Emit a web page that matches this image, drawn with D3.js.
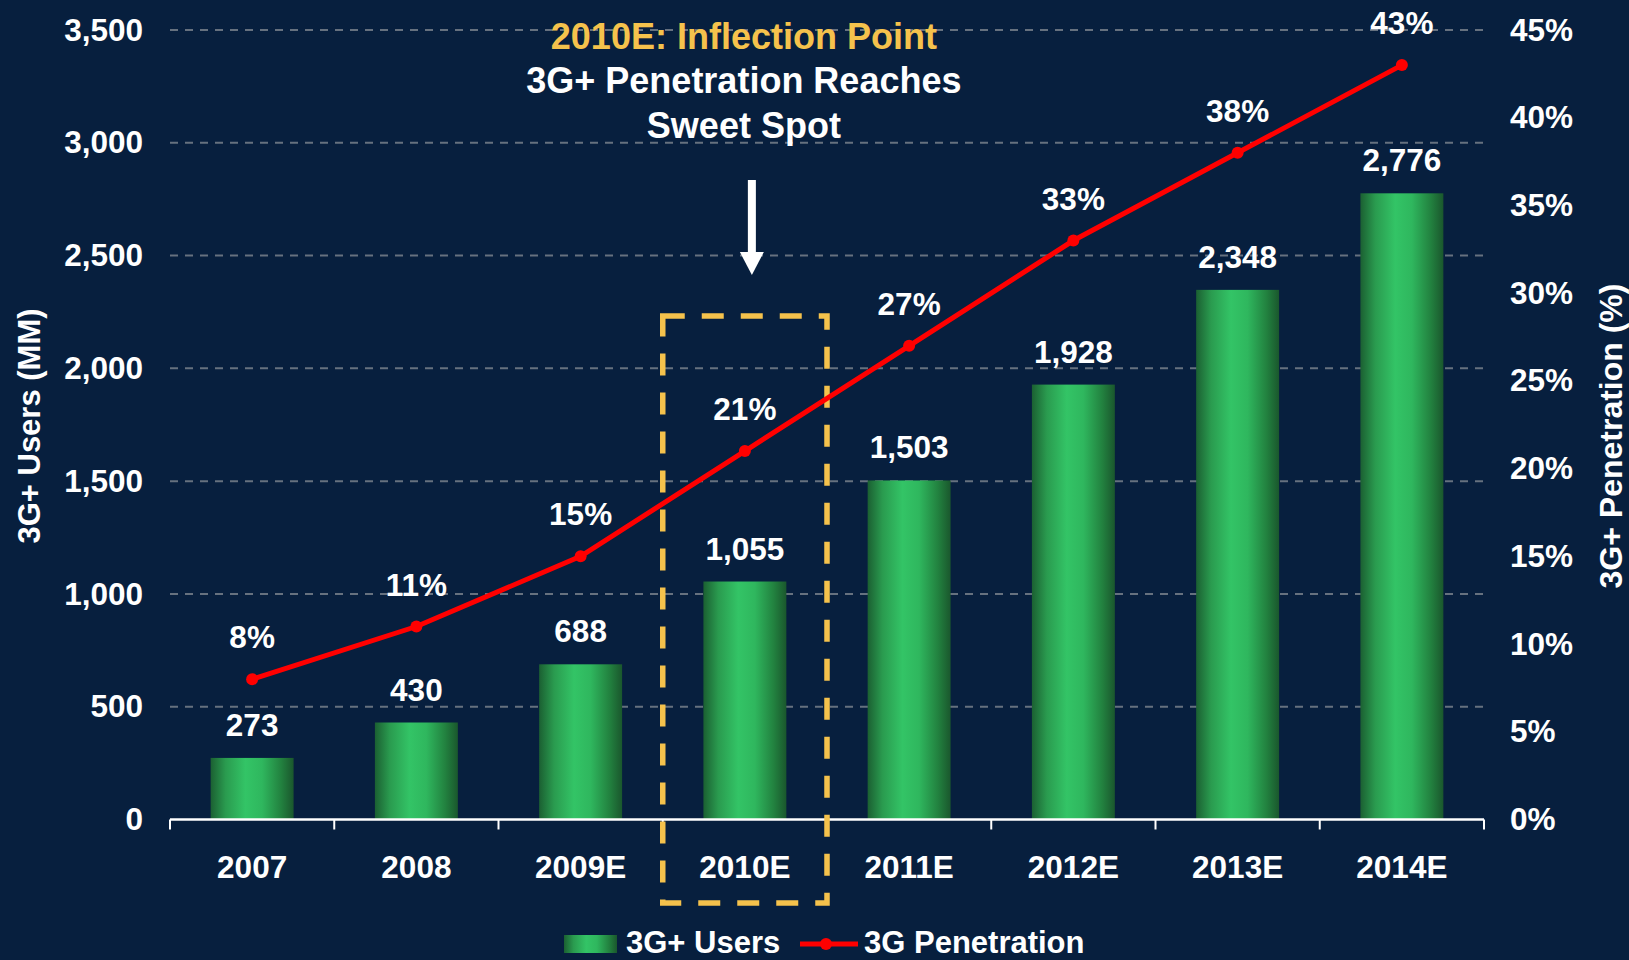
<!DOCTYPE html>
<html>
<head>
<meta charset="utf-8">
<script src="https://cdn.jsdelivr.net/npm/d3@7"></script>
<style>
  body { margin: 0; background: #071f3e; }
  svg { display: block; font-family: "Liberation Sans", Arial, sans-serif; font-weight: bold; }
</style>
</head>
<body>
<script>
const years = ['2007', '2008', '2009E', '2010E', '2011E', '2012E', '2013E', '2014E'];
const users = [273, 430, 688, 1055, 1503, 1928, 2348, 2776];
const penetration = [8, 11, 15, 21, 27, 33, 38, 43];
const userTicks = [0, 500, 1000, 1500, 2000, 2500, 3000, 3500];
const pctTicks = [0, 5, 10, 15, 20, 25, 30, 35, 40, 45];

const w = 1629;
const h = 960;
const plotLeft = 170, plotRight = 1484, plotTop = 30, plotBottom = 819.5;

const svg = d3.select('body').append('svg').attr('width', w).attr('height', h)

svg.append('rect').attr('width', w).attr('height', h).attr('fill', '#071f3e')

// bar gradient, dark edges and light middle
const grad = svg.append('defs').append('linearGradient').attr('id', 'barGrad')
  .attr('x1', '0%').attr('x2', '100%').attr('y1', '0%').attr('y2', '0%')
grad.append('stop').attr('offset', '0%').attr('stop-color', '#1b6032')
grad.append('stop').attr('offset', '18%').attr('stop-color', '#2a9b4f')
grad.append('stop').attr('offset', '42%').attr('stop-color', '#33c466')
grad.append('stop').attr('offset', '62%').attr('stop-color', '#2fb75e')
grad.append('stop').attr('offset', '85%').attr('stop-color', '#22813f')
grad.append('stop').attr('offset', '100%').attr('stop-color', '#1a572d')

const x = d3.scaleBand().domain(years).range([plotLeft, plotRight]).padding(0)
const yL = d3.scaleLinear().domain([0, 3500]).range([plotBottom, plotTop])
const yR = d3.scaleLinear().domain([0, 45]).range([plotBottom, plotTop])
const barW = x.bandwidth() * 0.505

// gridlines
svg.selectAll('.grid').data(userTicks.filter(d => d > 0)).enter()
  .append('line')
  .attr('x1', plotLeft).attr('x2', plotRight)
  .attr('y1', d => yL(d)).attr('y2', d => yL(d))
  .attr('stroke', '#66717f').attr('stroke-width', 2).attr('stroke-dasharray', '8,7')

// bars
svg.selectAll('.bar').data(users).enter()
  .append('rect')
  .attr('x', (d, i) => x(years[i]) + (x.bandwidth() - barW) / 2)
  .attr('y', d => yL(d))
  .attr('width', barW)
  .attr('height', d => plotBottom - yL(d))
  .attr('fill', 'url(#barGrad)')

// bar value labels
svg.selectAll('.barLabel').data(users).enter()
  .append('text')
  .attr('x', (d, i) => x(years[i]) + x.bandwidth() / 2)
  .attr('y', d => yL(d) - 22)
  .attr('text-anchor', 'middle').attr('fill', '#fff').style('font-size', '31.5px')
  .text(d => d3.format(',')(d))

// x axis (labels only), then boundary ticks
const xAxis = svg.append('g').attr('transform', 'translate(0,' + plotBottom + ')')
  .call(d3.axisBottom(x).tickSize(0).tickPadding(36))
xAxis.select('.domain').remove()
xAxis.selectAll('text').attr('fill', '#fff').style('font-size', '31.5px').style('font-family', 'Liberation Sans, Arial, sans-serif').style('font-weight', 'bold')

svg.append('line').attr('x1', plotLeft).attr('x2', plotRight).attr('y1', plotBottom).attr('y2', plotBottom)
  .attr('stroke', '#fff').attr('stroke-width', 2.5)
svg.selectAll('.xtick').data(years.map(d => x(d)).concat([plotRight])).enter()
  .append('line')
  .attr('x1', d => d).attr('x2', d => d)
  .attr('y1', plotBottom).attr('y2', plotBottom + 10)
  .attr('stroke', '#fff').attr('stroke-width', 2)

// left axis
const la = svg.append('g').attr('transform', 'translate(' + plotLeft + ',0)')
  .call(d3.axisLeft(yL).tickValues(userTicks).tickSize(0).tickPadding(27).tickFormat(d3.format(',')))
la.select('.domain').remove()
la.selectAll('text').attr('fill', '#fff').style('font-size', '31.5px').style('font-family', 'Liberation Sans, Arial, sans-serif').style('font-weight', 'bold')

// right axis
const ra = svg.append('g').attr('transform', 'translate(' + plotRight + ',0)')
  .call(d3.axisRight(yR).tickValues(pctTicks).tickSize(0).tickPadding(26).tickFormat(d => d + '%'))
ra.select('.domain').remove()
ra.selectAll('text').attr('fill', '#fff').style('font-size', '31.5px').style('font-family', 'Liberation Sans, Arial, sans-serif').style('font-weight', 'bold')

// axis titles
svg.append('text').attr('transform', 'translate(40,426) rotate(-90)')
  .attr('text-anchor', 'middle').attr('fill', '#fff').style('font-size', '31px')
  .text('3G+ Users (MM)')
svg.append('text').attr('transform', 'translate(1622,436) rotate(-90)')
  .attr('text-anchor', 'middle').attr('fill', '#fff').style('font-size', '32px')
  .text('3G+ Penetration (%)')

// highlight box around 2010E
svg.append('rect')
  .attr('x', x('2010E')).attr('y', 316)
  .attr('width', x.bandwidth()).attr('height', 903 - 316)
  .attr('fill', 'none').attr('stroke', '#f5c24c').attr('stroke-width', 5.5)
  .attr('stroke-dasharray', '22,17')

// penetration line
const line = d3.line()
  .x((d, i) => x(years[i]) + x.bandwidth() / 2)
  .y(d => yR(d))
svg.append('path').datum(penetration)
  .attr('d', line).attr('fill', 'none').attr('stroke', '#ff0000').attr('stroke-width', 5)

svg.selectAll('.dot').data(penetration).enter()
  .append('circle')
  .attr('cx', (d, i) => x(years[i]) + x.bandwidth() / 2)
  .attr('cy', d => yR(d))
  .attr('r', 6)
  .style('fill', '#ff0000')

svg.selectAll('.pctLabel').data(penetration).enter()
  .append('text')
  .attr('x', (d, i) => x(years[i]) + x.bandwidth() / 2)
  .attr('y', d => yR(d) - 31)
  .attr('text-anchor', 'middle').attr('fill', '#fff').style('font-size', '31.5px')
  .text(d => d + '%')

// annotation
const ax = x('2010E') + x.bandwidth() / 2
svg.append('text').attr('x', ax - 1).attr('y', 49)
  .attr('text-anchor', 'middle').attr('fill', '#f5c24c').style('font-size', '36px')
  .text('2010E: Inflection Point')
svg.append('text').attr('x', ax - 1).attr('y', 93)
  .attr('text-anchor', 'middle').attr('fill', '#fff').style('font-size', '36px')
  .text('3G+ Penetration Reaches')
svg.append('text').attr('x', ax - 1).attr('y', 138)
  .attr('text-anchor', 'middle').attr('fill', '#fff').style('font-size', '36px')
  .text('Sweet Spot')

const arrowX = ax + 7
svg.append('rect').attr('x', arrowX - 4).attr('y', 180).attr('width', 8).attr('height', 74).attr('fill', '#fff')
svg.append('path')
  .attr('d', 'M' + (arrowX - 12) + ',252 L' + (arrowX + 12) + ',252 L' + arrowX + ',275 Z')
  .attr('fill', '#fff')

// legend
svg.append('rect').attr('x', 564).attr('y', 935).attr('width', 53).attr('height', 18).attr('fill', 'url(#barGrad)')
svg.append('text').attr('x', 626).attr('y', 953).attr('fill', '#fff').style('font-size', '31px').text('3G+ Users')
svg.append('line').attr('x1', 800).attr('x2', 858).attr('y1', 944).attr('y2', 944)
  .attr('stroke', '#ff0000').attr('stroke-width', 5)
svg.append('circle').attr('cx', 826).attr('cy', 944).attr('r', 6).style('fill', '#ff0000')
svg.append('text').attr('x', 864).attr('y', 953).attr('fill', '#fff').style('font-size', '31px').text('3G Penetration')
</script>
</body>
</html>
